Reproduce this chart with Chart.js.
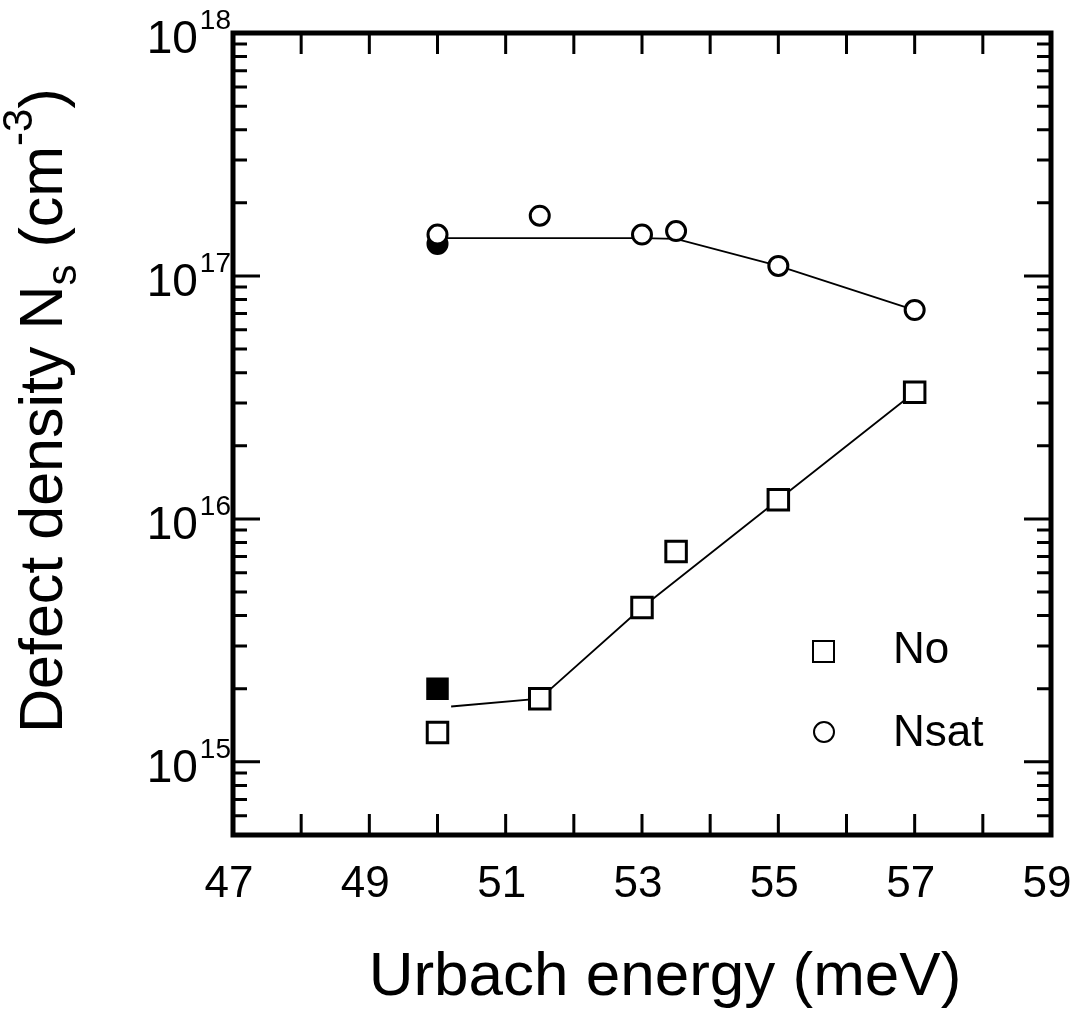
<!DOCTYPE html>
<html>
<head>
<meta charset="utf-8">
<script src="https://cdn.jsdelivr.net/npm/chart.js@4.4.1/dist/chart.umd.min.js"></script>
<style>
  body { margin: 0; background: #fff; }
  #wrap { width: 1074px; height: 1012px; }
</style>
</head>
<body>
<div id="wrap"><canvas id="myChart" width="1074" height="1012"></canvas></div>
<script>
// x axis: Urbach energy (meV)
const xTicks = [47, 48, 49, 50, 51, 52, 53, 54, 55, 56, 57, 58, 59];
const xLabels = [47, 49, 51, 53, 55, 57, 59];
// y axis decades
const yDecades = [15, 16, 17, 18];

// No (open squares) + filled square
const noX = [50, 51.5, 53, 53.5, 55, 57];
const noY = [1.32e15, 1.82e15, 4.32e15, 7.35e15, 1.2e16, 3.32e16];
const noFilledX = [50];
const noFilledY = [2.0e15];
const noLineX = [50.2, 51.5, 53, 55, 57];
const noLineY = [1.69e15, 1.82e15, 4.32e15, 1.2e16, 3.32e16];

// Nsat (open circles) + filled circle
const nsatX = [50, 51.5, 53, 53.5, 55, 57];
const nsatY = [1.48e17, 1.77e17, 1.48e17, 1.53e17, 1.1e17, 7.24e16];
const nsatFilledX = [50];
const nsatFilledY = [1.355e17];
const nsatLineX = [50, 53, 53.5, 55, 57];
const nsatLineY = [1.43e17, 1.43e17, 1.42e17, 1.1e17, 7.24e16];

const pts = (xs, ys) => xs.map((x, i) => ({ x: x, y: ys[i] }));

const FONT = '"Liberation Sans", Arial, Helvetica, sans-serif';

const framePlugin = {
  id: 'frame',
  afterDraw(chart) {
    const ctx = chart.ctx;
    const a = chart.chartArea;
    const xs = chart.scales.x;
    const ys = chart.scales.y;
    ctx.save();
    ctx.strokeStyle = '#000';
    ctx.fillStyle = '#000';

    // ticks
    ctx.lineWidth = 3;
    ctx.beginPath();
    xTicks.forEach(v => {
      const px = xs.getPixelForValue(v);
      ctx.moveTo(px, a.bottom); ctx.lineTo(px, a.bottom - 21);
      ctx.moveTo(px, a.top); ctx.lineTo(px, a.top + 21);
    });
    const yMin = ys.min, yMax = ys.max;
    for (let d = 14; d <= 17; d++) {
      for (let m = 1; m <= 9; m++) {
        const v = m * Math.pow(10, d);
        if (v < yMin || v > yMax) continue;
        const len = (m === 1) ? 27 : 14;
        const py = ys.getPixelForValue(v);
        ctx.moveTo(a.left, py); ctx.lineTo(a.left + len, py);
        ctx.moveTo(a.right, py); ctx.lineTo(a.right - len, py);
      }
    }
    ctx.stroke();

    // frame
    ctx.lineWidth = 5;
    ctx.strokeRect(a.left, a.top, a.right - a.left, a.bottom - a.top);

    // x tick labels
    ctx.font = '44px ' + FONT;
    ctx.textAlign = 'center';
    ctx.textBaseline = 'alphabetic';
    xLabels.forEach(v => {
      ctx.fillText(String(v), xs.getPixelForValue(v) - 4, 897);
    });

    // y tick labels 10^n
    yDecades.forEach(d => {
      const py = ys.getPixelForValue(Math.pow(10, d));
      ctx.textAlign = 'right';
      ctx.font = '28px ' + FONT;
      const supW = ctx.measureText(String(d)).width;
      ctx.fillText(String(d), a.left - 2, py - 4);
      ctx.font = '46px ' + FONT;
      ctx.fillText('10', a.left - 4 - supW, py + 20);
    });

    // x title
    ctx.font = '62px ' + FONT;
    ctx.textAlign = 'center';
    ctx.fillText('Urbach energy (meV)', 665, 995);

    // y title (rotated, rich text)
    ctx.translate(62, 733);
    ctx.rotate(-Math.PI / 2);
    ctx.textAlign = 'left';
    let cx = 0;
    const part = (txt, size, dy) => {
      ctx.font = size + 'px ' + FONT;
      ctx.fillText(txt, cx, dy);
      cx += ctx.measureText(txt).width;
    };
    part('Defect density N', 61, 0);
    part('s', 42, 14);
    part(' (cm', 61, 0);
    part('-3', 42, -30);
    part(')', 61, 0);
    ctx.setTransform(1, 0, 0, 1, 0, 0);

    // legend
    ctx.lineWidth = 2;
    ctx.strokeRect(813, 641, 21, 21);
    ctx.beginPath();
    ctx.arc(824, 732, 10, 0, Math.PI * 2);
    ctx.stroke();
    ctx.font = '44px ' + FONT;
    ctx.textAlign = 'left';
    ctx.fillText('No', 893, 663);
    ctx.fillText('Nsat', 893, 746);
    ctx.restore();
  }
};

const ctx = document.getElementById('myChart').getContext('2d');
const myChart = new Chart(ctx, {
  type: 'scatter',
  data: {
    datasets: [
      {
        label: 'No',
        data: pts(noX, noY),
        pointStyle: 'rect',
        pointRadius: 14.5,
        borderWidth: 3,
        borderColor: '#000',
        backgroundColor: '#fff',
        order: 1
      },
      {
        label: 'No (filled)',
        data: pts(noFilledX, noFilledY),
        pointStyle: 'rect',
        pointRadius: 14.5,
        borderWidth: 2,
        borderColor: '#000',
        backgroundColor: '#000',
        order: 1
      },
      {
        label: 'Nsat (filled)',
        data: pts(nsatFilledX, nsatFilledY),
        pointStyle: 'circle',
        pointRadius: 10,
        borderWidth: 2,
        borderColor: '#000',
        backgroundColor: '#000',
        order: 1
      },
      {
        label: 'Nsat',
        data: pts(nsatX, nsatY),
        pointStyle: 'circle',
        pointRadius: 9.5,
        borderWidth: 3,
        borderColor: '#000',
        backgroundColor: '#fff',
        order: 0
      },
      {
        label: 'No fit',
        data: pts(noLineX, noLineY),
        showLine: true,
        pointRadius: 0,
        borderWidth: 1.8,
        borderColor: '#000',
        order: 2
      },
      {
        label: 'Nsat fit',
        data: pts(nsatLineX, nsatLineY),
        showLine: true,
        pointRadius: 0,
        borderWidth: 1.8,
        borderColor: '#000',
        order: 2
      }
    ]
  },
  options: {
    responsive: false,
    animation: false,
    layout: { padding: { left: 233, right: 23, top: 33, bottom: 177 } },
    plugins: { legend: { display: false }, tooltip: { enabled: false } },
    scales: {
      x: { type: 'linear', min: 47, max: 59, display: false },
      y: { type: 'logarithmic', min: 5e14, max: 1e18, display: false }
    }
  },
  plugins: [framePlugin]
});
</script>
</body>
</html>
